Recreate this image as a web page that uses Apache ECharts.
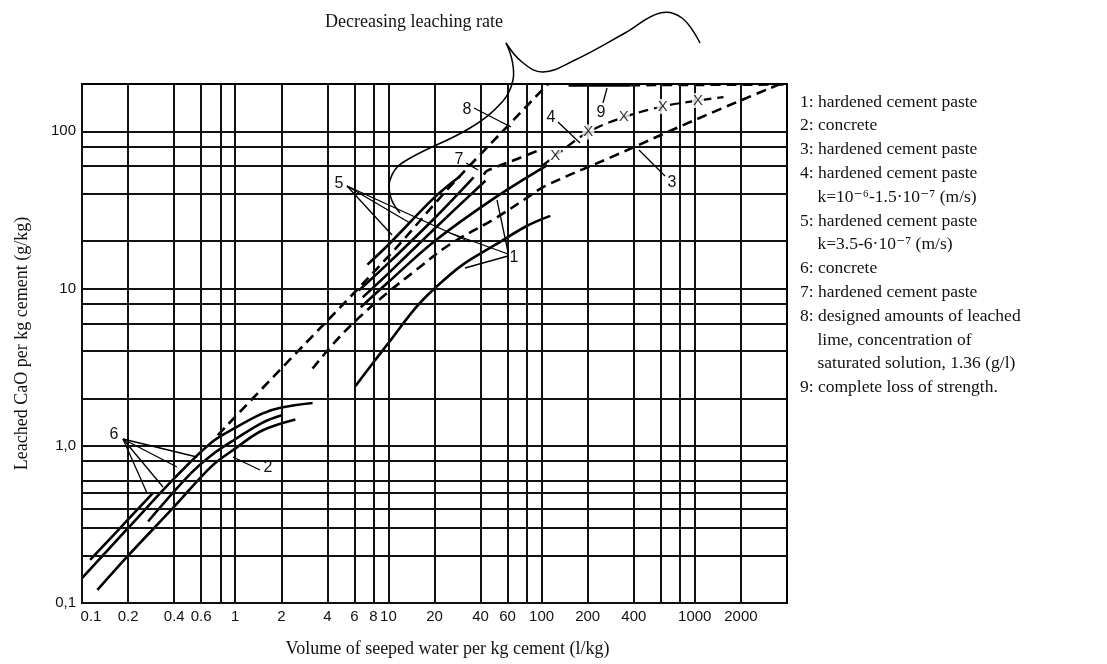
<!DOCTYPE html>
<html>
<head>
<meta charset="utf-8">
<title>Leached CaO vs seeped water</title>
<script src="https://cdn.jsdelivr.net/npm/echarts@6/dist/echarts.min.js"></script>
<style>
  html, body { margin: 0; padding: 0; background: #fff; }
  #main { width: 1107px; height: 664px; }
</style>
</head>
<body>
<div id="main"></div>
<script>
// graph-paper lines and tick labels
var xLineValues = [0.1, 0.2, 0.4, 0.6, 0.8, 1, 2, 4, 6, 8, 10, 20, 40, 60, 80, 100, 200, 400, 600, 800, 1000, 2000];
var xTickValues = [0.1, 0.2, 0.4, 0.6, 1, 2, 4, 6, 8, 10, 20, 40, 60, 100, 200, 400, 1000, 2000];
var xTickText = ['0.1', '0.2', '0.4', '0.6', '1', '2', '4', '6', '8', '10', '20', '40', '60', '100', '200', '400', '1000', '2000'];
var yLineValues = [0.1, 0.2, 0.3, 0.4, 0.5, 0.6, 0.8, 1, 2, 4, 6, 8, 10, 20, 40, 60, 80, 100];
var yTickValues = [0.1, 1, 10, 100];
var yTickText = ['0,1', '1,0', '10', '100'];

// curves, [water l/kg, CaO g/kg]
var curve6a = [[0.113, 0.188], [0.2, 0.34], [0.29, 0.5]];
var curve6b = [[0.1, 0.144], [0.2, 0.3], [0.4, 0.62], [0.7, 1.05], [1, 1.3], [1.5, 1.6], [2, 1.75], [3.2, 1.87]];
var curve6c = [[0.27, 0.33], [0.5, 0.65], [0.7, 0.87], [1, 1.1], [1.5, 1.4], [2.03, 1.57]];
var curve2 = [[0.126, 0.121], [0.2, 0.2], [0.4, 0.41], [0.7, 0.74], [1, 0.96], [1.5, 1.25], [2.47, 1.47]];
var curve5a = [[7.3, 14.2], [10, 19], [20, 38], [29.5, 52]];
var curve5b = [[6.4, 9.7], [10, 14.5], [20, 28], [36, 51]];
var curve5c = [[6.8, 8.8], [10, 12.5], [20, 24], [43, 48.5]];
var curve1a = [[6.6, 7.6], [10, 11], [20, 20], [50, 38], [109, 61]];
var curve1b = [[6.1, 2.4], [8, 3.4], [10, 4.5], [15, 7.5], [20, 10], [30, 14], [50, 19], [80, 25], [114, 29]];
var curve7 = [[42, 53], [44, 56], [70, 67], [100, 77]];
var curve3 = [[3.2, 3.1], [4.5, 4.6], [6.5, 6.6], [10, 9.5], [15, 13], [25, 19], [50, 28], [81, 38], [106, 45], [300, 70], [1000, 118], [3600, 200]];
var curve8 = [[0.77, 1.17], [2, 3.1], [10, 16], [25, 44], [65, 117], [110, 200]];
var curve4 = [[100, 60], [123, 70], [202, 99], [344, 123], [618, 144], [1050, 157], [1540, 165]];
var strengthLossX = [[123, 70], [202, 99], [344, 123], [618, 144], [1050, 157]];
var curve9 = [[150, 196], [380, 196]];
var curve9dash = [[380, 196], [3800, 198]];

var legendLines = [
  '1: hardened cement paste',
  '2: concrete',
  '3: hardened cement paste',
  '4: hardened cement paste',
  '    k=10\u207B\u2076-1.5\u00B710\u207B\u2077 (m/s)',
  '5: hardened cement paste',
  '    k=3.5-6\u00B710\u207B\u2077 (m/s)',
  '6: concrete',
  '7: hardened cement paste',
  '8: designed amounts of leached',
  '    lime, concentration of',
  '    saturated solution, 1.36 (g/l)',
  '9: complete loss of strength.'
];

// curve numbers and their leader lines (pixel positions on the page)
var numberLabels = [['8', 467, 110], ['9', 601, 113], ['4', 551, 118], ['7', 459, 160], ['5', 339, 184],
  ['3', 672, 183], ['1', 514, 258], ['6', 114, 435], ['2', 268, 468]];
var leaders = [
  [474, 108, 511, 127], [603, 103, 607, 88], [558, 122, 580, 143], [466, 163, 478, 170],
  [347, 186, 392, 235], [347, 186, 410, 223], [347, 186, 470, 242],
  [665, 176, 639, 150], [508, 256, 465, 268], [508, 254, 450, 233], [508, 252, 497, 200],
  [123, 439, 197, 457], [123, 439, 177, 467], [123, 439, 163, 487], [123, 439, 147, 493],
  [260, 470, 233, 457]
];
var braceLeft = [[400, 213], [391, 198], [390, 180], [402, 163], [470, 128], [503, 101], [513, 80], [512, 60], [506, 43]];
var braceRight = [[506, 43], [522, 62], [543, 72], [575, 60], [625, 33], [660, 13], [682, 18], [700, 43]];

var chart = echarts.init(document.getElementById('main'));

function curve(name, data, dashed, width) {
  return {
    name: name, type: 'line', data: data, showSymbol: false, smooth: 0.35, clip: false,
    silent: true, animation: false, z: 3,
    lineStyle: { color: '#000', width: width || 2.6, type: dashed ? [10, 6] : 'solid' }
  };
}

var labelFont = { color: '#111', fontFamily: 'Liberation Sans, Arial, sans-serif', fontSize: 15 };

var gridMarks = [];
xLineValues.forEach(function (v) {
  var i = xTickValues.indexOf(v);
  gridMarks.push({
    xAxis: v,
    label: i < 0 ? { show: false } : {
      show: true, position: 'start', distance: 6, formatter: xTickText[i],
      padding: v === 0.1 ? [0, 0, 0, 18] : 0
    }
  });
});
yLineValues.forEach(function (v) {
  var i = yTickValues.indexOf(v);
  gridMarks.push({
    yAxis: v,
    label: i < 0 ? { show: false } : { show: true, position: 'start', distance: 6, formatter: yTickText[i] }
  });
});

var graphics = [];
graphics.push({
  type: 'text', left: 325, top: 13,
  style: { text: 'Decreasing leaching rate', fill: '#111', font: '18px "Liberation Serif", "Times New Roman", serif' }
});
legendLines.forEach(function (t, i) {
  graphics.push({
    type: 'text', x: 800, y: 102 + i * 23.8,
    style: { text: t, fill: '#111', font: '17.5px "Liberation Serif", "DejaVu Serif", serif', verticalAlign: 'middle' }
  });
});
numberLabels.forEach(function (n) {
  graphics.push({
    type: 'text', x: n[1], y: n[2], z: 10,
    style: { text: n[0], fill: '#111', font: '16px "Liberation Sans", Arial, sans-serif', align: 'center', verticalAlign: 'middle' }
  });
});
leaders.forEach(function (l) {
  graphics.push({
    type: 'line', z: 10, shape: { x1: l[0], y1: l[1], x2: l[2], y2: l[3] },
    style: { stroke: '#000', lineWidth: 1.3 }
  });
});
[braceLeft, braceRight].forEach(function (pts) {
  graphics.push({
    type: 'polyline', z: 10, shape: { points: pts, smooth: 0.4 },
    style: { stroke: '#000', lineWidth: 1.5, fill: null }
  });
});

var option = {
  backgroundColor: '#fff',
  animation: false,
  grid: { left: 82, top: 84, width: 705, height: 519, show: true, borderColor: '#000', borderWidth: 2, containLabel: false },
  xAxis: {
    type: 'log', logBase: 10, min: 0.1, max: 4000,
    name: 'Volume of seeped water per kg cement (l/kg)', nameLocation: 'middle', nameGap: 37,
    nameTextStyle: { color: '#111', fontFamily: 'Liberation Serif, Times New Roman, serif', fontSize: 18, padding: [0, 0, 0, 26] },
    axisLine: { show: true, lineStyle: { color: '#000', width: 2 } },
    axisTick: { show: false }, axisLabel: { show: false }, splitLine: { show: false }
  },
  yAxis: {
    type: 'log', logBase: 10, min: 0.1, max: 200,
    name: 'Leached CaO per kg cement (g/kg)', nameLocation: 'middle', nameGap: 51, nameRotate: 90,
    nameTextStyle: { color: '#111', fontFamily: 'Liberation Serif, Times New Roman, serif', fontSize: 18 },
    axisLine: { show: true, lineStyle: { color: '#000', width: 2 } },
    axisTick: { show: false }, axisLabel: { show: false }, splitLine: { show: false }
  },
  graphic: graphics,
  series: [
    {
      name: 'paper', type: 'line', data: [[1, 1]], showSymbol: false, silent: true,
      lineStyle: { opacity: 0 },
      markLine: {
        silent: true, symbol: ['none', 'none'], animation: false,
        lineStyle: { color: '#111', width: 2, type: 'solid' },
        label: labelFont,
        emphasis: { disabled: true },
        data: gridMarks
      }
    },
    curve('6a', curve6a), curve('6b', curve6b), curve('6c', curve6c), curve('2', curve2),
    curve('5a', curve5a), curve('5b', curve5b), curve('5c', curve5c),
    curve('1a', curve1a), curve('1b', curve1b),
    curve('7', curve7, true), curve('3', curve3, true), curve('8', curve8, true),
    curve('4', curve4, true, 2.2), curve('9', curve9), curve('9b', curve9dash, true, 2.2),
    {
      name: 'strength loss', type: 'scatter', data: strengthLossX, symbol: 'circle', symbolSize: 2,
      silent: true, z: 5, itemStyle: { color: 'rgba(0,0,0,0)' },
      label: { show: true, position: 'inside', formatter: 'X', color: '#000', fontSize: 15,
        fontFamily: 'Liberation Sans, Arial, sans-serif', backgroundColor: '#fff', padding: [0, 1] }
    }
  ]
};
chart.setOption(option);
window.addEventListener('resize', function () { chart.resize(); });
</script>
</body>
</html>
